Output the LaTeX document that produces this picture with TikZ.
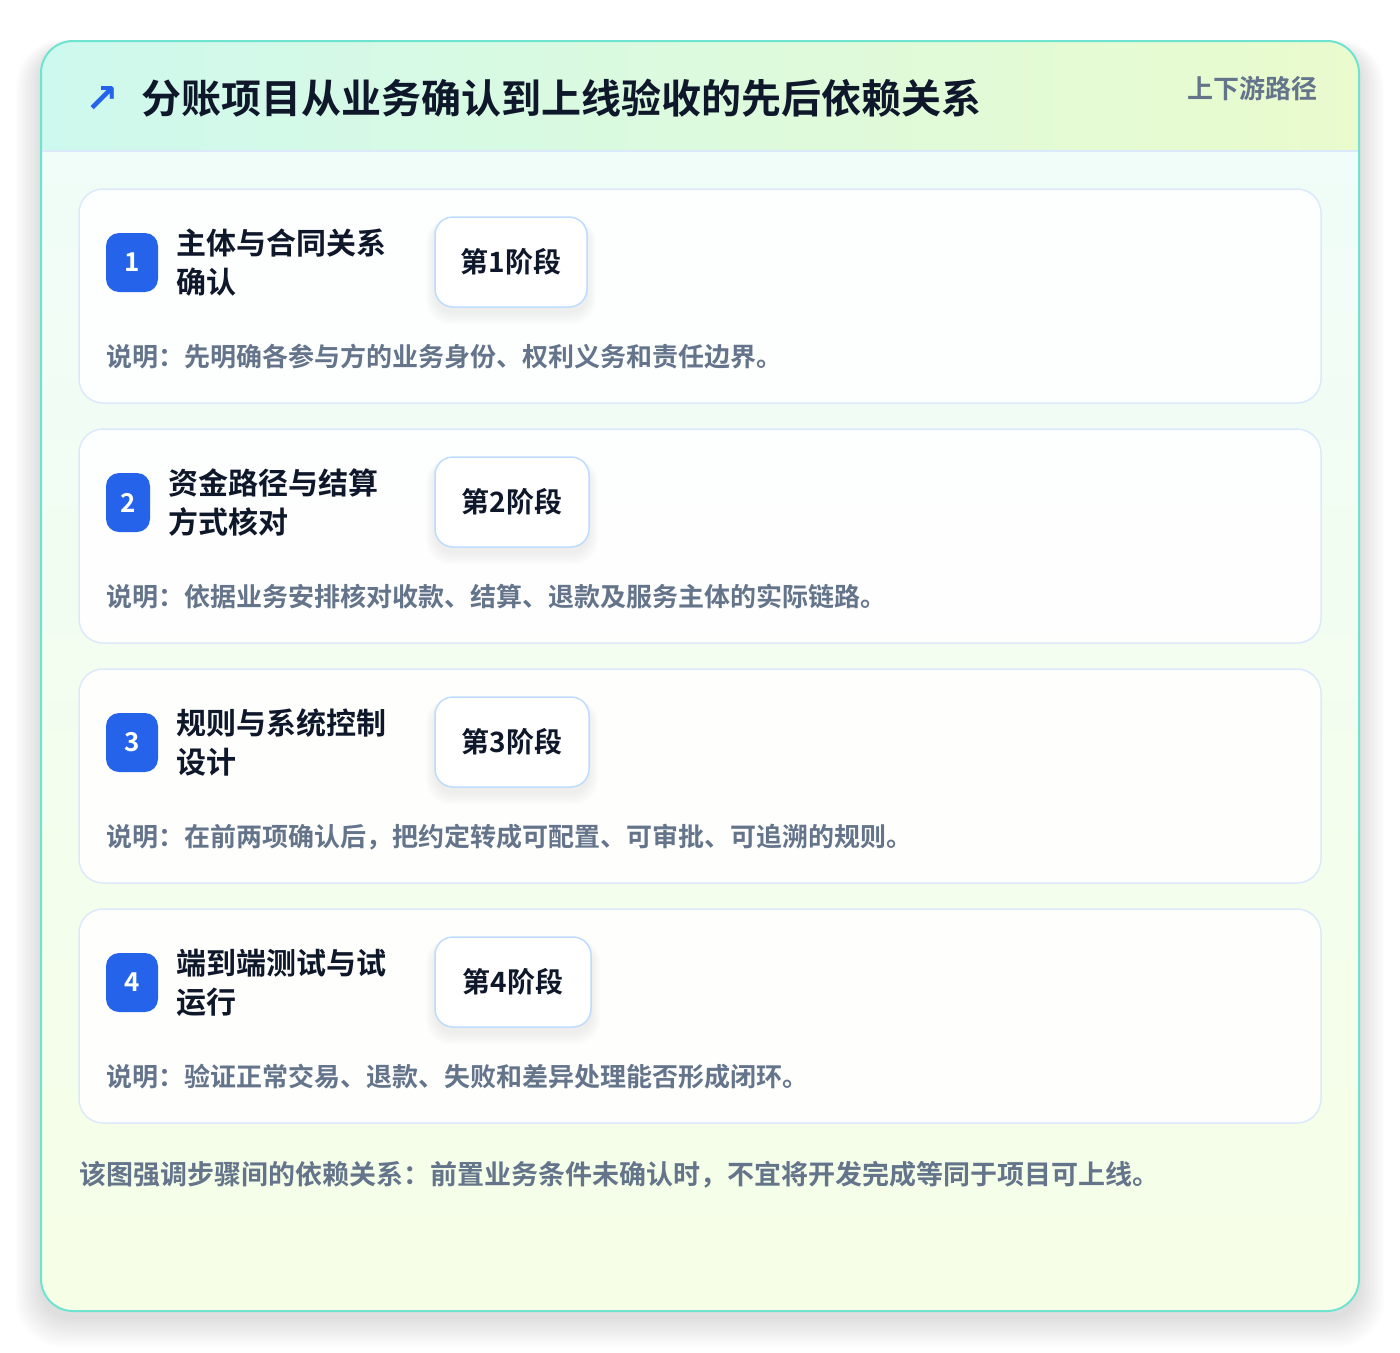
\documentclass[tikz,border=0pt]{standalone}
\usepackage{fontspec}
\setmainfont{Noto Sans CJK SC}[BoldFont={Noto Sans CJK SC Bold}]
\newfontfamily\symfont{DejaVu Sans}
\definecolor{ink}{HTML}{0F172A}
\definecolor{muted}{HTML}{64748B}
\definecolor{brand}{HTML}{2563EB}
\definecolor{tealline}{HTML}{6EE3D0}
\definecolor{cardline}{HTML}{DCE9FB}
\definecolor{pillline}{HTML}{BFDBFE}
\definecolor{hdrL}{HTML}{CEF9EE}
\definecolor{hdrR}{HTML}{EAFBCD}
\definecolor{bodyT}{HTML}{F0FDF8}
\definecolor{bodyB}{HTML}{F6FEE6}
\tikzset{
  cardbox/.style={draw=cardline, line width=1.5pt, fill=white, fill opacity=0.92, draw opacity=1, rounded corners=24pt, minimum width=1242pt, minimum height=214pt, inner sep=0},
  badgebox/.style={fill=brand, rounded corners=13pt, minimum height=59pt, inner sep=0, text=white, font=\fontsize{26}{28}\selectfont\bfseries},
  titletext/.style={anchor=west, align=left, inner sep=0, text=ink, font=\fontsize{30}{39}\selectfont\bfseries},
  pillbox/.style={draw=pillline, line width=1.5pt, fill=white, rounded corners=18pt, minimum height=90pt, inner sep=0, text=ink, font=\fontsize{28}{32}\selectfont\bfseries},
  desctext/.style={anchor=west, inner sep=0, text=muted, font=\fontsize{26}{30}\selectfont\bfseries},
}
\begin{document}
\begin{tikzpicture}[x=1pt,y=-1pt]
\useasboundingbox[fill=white] (0,0) rectangle (1400,1352);
% outer card soft shadow (layered)
\foreach \i in {1,...,16}{
  \fill[black, opacity=0.006, rounded corners={32pt+\i pt}] (41-1.6*\i,41-0.6*\i+8) rectangle (1359+1.6*\i,1311+1.9*\i+6);
}
\begin{scope}
  \clip[rounded corners=32pt] (41,41) rectangle (1359,1311);
  \shade[top color=bodyT, bottom color=bodyB] (41,151) rectangle (1359,1311);
  \shade[left color=hdrL, right color=hdrR] (41,41) rectangle (1359,151);
\end{scope}
\coordinate (hl) at (41,151);
\coordinate (hr) at (1359,151);
\draw[cardline, line width=1.5pt] (hl) -- (hr);
\draw[tealline, line width=2pt, rounded corners=32pt] (41,41) rectangle (1359,1311);
% header
\node[inner sep=0, text=brand, font=\symfont\bfseries\fontsize{40}{44}\selectfont] (icon) at (102,99) {↗};
\node[anchor=west, inner sep=0, text=ink, font=\fontsize{40}{48}\selectfont\bfseries] (title) at (141,98) {分账项目从业务确认到上线验收的先后依赖关系};
\node[anchor=east, inner sep=0, text=muted, font=\fontsize{26}{30}\selectfont\bfseries] (tag) at (1318,89) {上下游路径};
% cards
\foreach \n/\t/\bw/\tx/\la/\lb/\pw/\d in {
  1/189/52/176/主体与合同关系/确认/152/说明：先明确各参与方的业务身份、权利义务和责任边界。,
  2/429/44/168/资金路径与结算/方式核对/154/说明：依据业务安排核对收款、结算、退款及服务主体的实际链路。,
  3/669/52/176/规则与系统控制/设计/154/说明：在前两项确认后，把约定转成可配置、可审批、可追溯的规则。,
  4/909/52/176/端到端测试与试/运行/156/说明：验证正常交易、退款、失败和差异处理能否形成闭环。}{
  \node[cardbox] (card\n) at (700,\t+107) {};
  \node[badgebox, minimum width=\bw pt] (badge\n) at (106+\bw/2,\t+73.5) {\n};
  \node[titletext] (ttl\n) at (\tx,\t+73.5) {\la\\\lb};
  \foreach \j in {1,...,8}{
    \fill[black, opacity=0.007, rounded corners={18pt+\j pt}] (435-1.2*\j,\t+28-0.5*\j+5) rectangle (435+\pw+1.2*\j,\t+118+1.6*\j+5);
  }
  \node[pillbox, minimum width=\pw pt] (pill\n) at (435+\pw/2,\t+73) {第\n 阶段};
  \node[desctext] (desc\n) at (106,\t+168) {\d};
}
\node[anchor=west, inner sep=0, text=muted, font=\fontsize{27}{31}\selectfont\bfseries] (foot) at (79,1175) {该图强调步骤间的依赖关系：前置业务条件未确认时，不宜将开发完成等同于项目可上线。};
\end{tikzpicture}
\end{document}
